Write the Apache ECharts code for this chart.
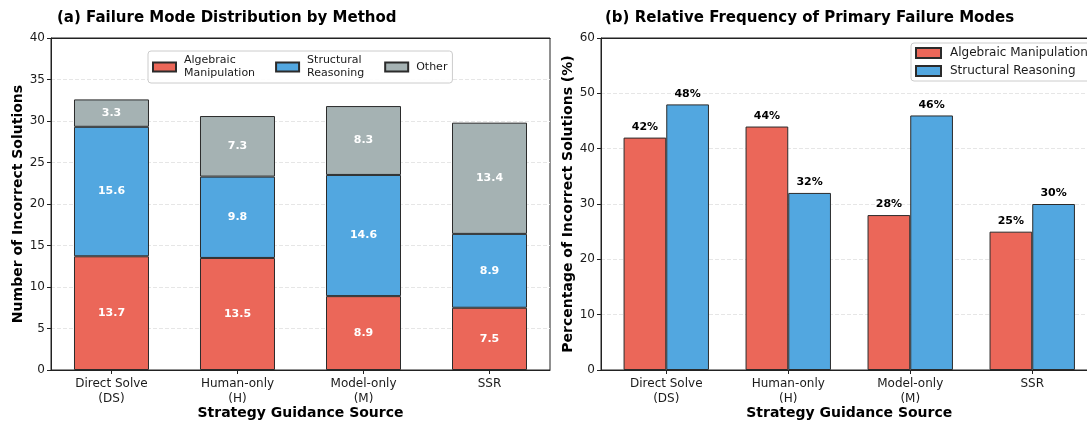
<!DOCTYPE html>
<html>
<head>
<meta charset="utf-8">
<script src="https://cdn.jsdelivr.net/npm/echarts@6/dist/echarts.min.js"></script>
<style>
  html, body { margin: 0; padding: 0; background: #fff; }
  #main { width: 1087px; height: 423px; }
</style>
</head>
<body>
<div id="main"></div>
<script>
// categories (x axis of both panels)
var categories = ['Direct Solve\n(DS)', 'Human-only\n(H)', 'Model-only\n(M)', 'SSR'];

// panel (a): mean number of incorrect solutions by failure mode
var algebraicCount = [13.7, 13.5, 8.9, 7.5];
var structuralCount = [15.6, 9.8, 14.6, 8.9];
var otherCount = [3.3, 7.3, 8.3, 13.4];
var totalCount = [32.6, 30.6, 31.8, 29.8];

// panel (b): percentages of primary failure modes
var algebraicPct = [42, 44, 28, 25];
var structuralPct = [48, 32, 46, 30];

var RED = '#EB6759', BLUE = '#52A7E0', GRAY = '#A5B2B3';
var FONT = 'DejaVu Sans';
var EDGE = '#2b2b2b';

// value first, category index second (so the value dim is the one that stacks)
function pairs(arr) {
    return arr.map(function (v, i) { return [v, i]; });
}
var ENC = { x: 1, y: 0 };

var myChart = echarts.init(document.getElementById('main'));

function xAxisFor(gridIndex, min, max) {
    return {
        type: 'value',
        gridIndex: gridIndex,
        min: min,
        max: max,
        name: 'Strategy Guidance Source',
        nameLocation: 'middle',
        nameGap: 36,
        nameMoveOverlap: false,
        nameTextStyle: { fontFamily: FONT, fontSize: 14, fontWeight: 'bold', color: '#000' },
        axisLine: { show: true, onZero: false, lineStyle: { color: '#222', width: 1 } },
        axisTick: { show: true, length: 4, customValues: [0, 1, 2, 3], lineStyle: { color: '#222' } },
        axisLabel: {
            customValues: [0, 1, 2, 3],
            margin: 6,
            fontFamily: FONT,
            fontSize: 12,
            lineHeight: 15,
            color: '#1a1a1a',
            formatter: function (v) { return categories[Math.round(v)]; }
        },
        splitLine: { show: false }
    };
}

// plain line on the top edge of the frame
function topAxisFor(gridIndex, min, max) {
    return {
        type: 'value', gridIndex: gridIndex, position: 'top', min: min, max: max,
        axisLine: { show: true, onZero: false, lineStyle: { color: '#222', width: 1 } },
        axisTick: { show: false }, axisLabel: { show: false }, splitLine: { show: false }
    };
}

function yAxisFor(gridIndex, max, interval, name, gap) {
    return {
        type: 'value',
        gridIndex: gridIndex,
        min: 0,
        max: max,
        interval: interval,
        name: name,
        nameLocation: 'middle',
        nameGap: gap,
        nameTextStyle: { fontFamily: FONT, fontSize: 14, fontWeight: 'bold', color: '#000' },
        axisLine: { show: true, onZero: false, lineStyle: { color: '#222', width: 1 } },
        axisTick: { show: true, length: 4, lineStyle: { color: '#222' } },
        axisLabel: { margin: 6, fontFamily: FONT, fontSize: 12, color: '#1a1a1a' },
        splitLine: { show: true, lineStyle: { color: '#e6e6e6', type: [4, 2], width: 1 } }
    };
}

var whiteLabel = {
    show: true,
    position: 'inside',
    color: '#fff',
    fontFamily: FONT,
    fontSize: 11,
    fontWeight: 'bold',
    formatter: function (p) { return p.value[0].toFixed(1); }
};

var pctLabel = {
    show: true,
    position: 'top',
    distance: 5,
    color: '#000',
    fontFamily: FONT,
    fontSize: 11,
    fontWeight: 'bold',
    formatter: function (p) { return p.value[0] + '%'; }
};

var option = {
    backgroundColor: '#fff',
    animation: false,
    title: [
        { text: '(a) Failure Mode Distribution by Method', left: 52, top: 6,
          textStyle: { fontFamily: FONT, fontSize: 15, fontWeight: 'bold', color: '#000' } },
        { text: '(b) Relative Frequency of Primary Failure Modes', left: 600, top: 6,
          textStyle: { fontFamily: FONT, fontSize: 15, fontWeight: 'bold', color: '#000' } }
    ],
    legend: [
        {
            data: ['Algebraic Manipulation', 'Structural Reasoning', 'Other'],
            orient: 'horizontal',
            left: 148, top: 51,
            padding: [3, 5, 3, 4],
            itemGap: 20,
            itemWidth: 23, itemHeight: 9,
            icon: 'rect',
            backgroundColor: 'rgba(255,255,255,0.9)',
            borderColor: '#ccc', borderWidth: 1, borderRadius: 3,
            selectedMode: false,
            textStyle: { fontFamily: FONT, fontSize: 11, lineHeight: 13, color: '#1a1a1a', padding: [0, 0, 0, 3] },
            formatter: function (name) { return name.replace(' ', '\n'); }
        },
        {
            data: ['Algebraic Manipulation', 'Structural Reasoning'],
            orient: 'vertical',
            left: 911, top: 43,
            padding: [4, 6, 4, 4],
            itemGap: 6,
            itemWidth: 25, itemHeight: 10,
            icon: 'rect',
            backgroundColor: 'rgba(255,255,255,0.9)',
            borderColor: '#ccc', borderWidth: 1, borderRadius: 3,
            selectedMode: false,
            textStyle: { fontFamily: FONT, fontSize: 12, color: '#1a1a1a', padding: [0, 0, 0, 4] }
        }
    ],
    grid: [
        { left: 51, top: 38, width: 499, height: 332, outerBoundsMode: 'none',
          show: true, borderColor: '#222', borderWidth: 1 },
        { left: 601, top: 38, width: 496.5, height: 332, outerBoundsMode: 'none',
          show: true, borderColor: '#222', borderWidth: 1 }
    ],
    xAxis: [
        xAxisFor(0, -0.48, 3.48),
        xAxisFor(1, -0.535, 3.535),
        topAxisFor(0, -0.48, 3.48),
        topAxisFor(1, -0.535, 3.535)
    ],
    yAxis: [
        yAxisFor(0, 40, 5, 'Number of Incorrect Solutions', 25),
        yAxisFor(1, 60, 10, 'Percentage of Incorrect Solutions (%)', 26)
    ],
    series: [
        // panel (a) stacked bars
        {
            name: 'Algebraic Manipulation', type: 'bar', xAxisIndex: 0, yAxisIndex: 0,
            stack: 'a', barWidth: 75, encode: ENC,
            itemStyle: { color: RED, borderColor: EDGE, borderWidth: 1 },
            label: whiteLabel,
            data: pairs(algebraicCount)
        },
        {
            name: 'Structural Reasoning', type: 'bar', xAxisIndex: 0, yAxisIndex: 0,
            stack: 'a', barWidth: 75, encode: ENC,
            itemStyle: { color: BLUE, borderColor: EDGE, borderWidth: 1 },
            label: whiteLabel,
            data: pairs(structuralCount)
        },
        {
            name: 'Other', type: 'bar', xAxisIndex: 0, yAxisIndex: 0,
            stack: 'a', barWidth: 75, encode: ENC,
            itemStyle: { color: GRAY, borderColor: EDGE, borderWidth: 1 },
            label: whiteLabel,
            data: pairs(otherCount)
        },
        // n= totals above each stack
        {
            name: 'total', type: 'scatter', xAxisIndex: 0, yAxisIndex: 0,
            symbolSize: 1, silent: true, encode: ENC,
            itemStyle: { opacity: 0 },
            label: {
                show: true, position: 'top', distance: 8,
                color: '#000', fontFamily: FONT, fontSize: 11, fontWeight: 'bold',
                formatter: function (p) { return 'n=' + p.value[0].toFixed(1); }
            },
            data: pairs(totalCount)
        },
        // panel (b) grouped bars
        {
            name: 'Algebraic Manipulation', type: 'bar', xAxisIndex: 1, yAxisIndex: 1,
            barWidth: 42.7, barGap: '0%', encode: ENC,
            itemStyle: { color: RED, borderColor: EDGE, borderWidth: 1 },
            label: pctLabel,
            data: pairs(algebraicPct)
        },
        {
            name: 'Structural Reasoning', type: 'bar', xAxisIndex: 1, yAxisIndex: 1,
            barWidth: 42.7, barGap: '0%', encode: ENC,
            itemStyle: { color: BLUE, borderColor: EDGE, borderWidth: 1 },
            label: pctLabel,
            data: pairs(structuralPct)
        }
    ]
};

myChart.setOption(option);
</script>
</body>
</html>
